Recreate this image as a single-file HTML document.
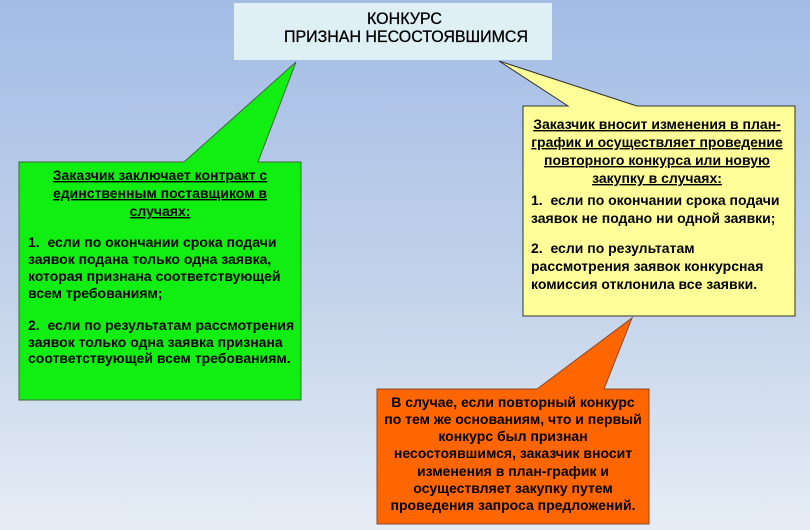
<!DOCTYPE html>
<html><head><meta charset="utf-8"><style>
html,body{margin:0;padding:0;}
body{width:810px;height:530px;overflow:hidden;background:linear-gradient(#a3bce6,#c3d3ea 55%,#e6edf5);}
svg{display:block}
text{font-family:"Liberation Sans",Arial,sans-serif;font-weight:bold;font-size:14px;fill:#000;}
.u{text-decoration:underline;}
.t{font-weight:normal;font-size:17px;stroke:#000;stroke-width:0.3px;}
</style></head><body>
<svg width="810" height="530" viewBox="0 0 810 530">
<rect x="234" y="3" width="318" height="57" fill="#def0f3"/>
<text class="t" x="367" y="24" textLength="75" lengthAdjust="spacingAndGlyphs">КОНКУРС</text>
<text class="t" x="284" y="42" textLength="244" lengthAdjust="spacingAndGlyphs">ПРИЗНАН НЕСОСТОЯВШИМСЯ</text>

<polygon points="19,162 184,162 296,62 258,162 301,162 301,400 19,400" fill="#11ee11" stroke="#3a6a3a" stroke-width="1"/>
<g text-anchor="middle">
<text class="u" x="160" y="180">Заказчик заключает контракт с</text>
<text class="u" x="160" y="198">единственным поставщиком в</text>
<text class="u" x="160" y="216">случаях:</text>
</g>
<text x="28" y="247">1.&#160; если по окончании срока подачи</text>
<text x="28" y="264">заявок подана только одна заявка,</text>
<text x="28" y="281">которая признана соответствующей</text>
<text x="28" y="298">всем требованиям;</text>
<text x="28" y="330">2.&#160; если по результатам рассмотрения</text>
<text x="28" y="347">заявок только одна заявка признана</text>
<text x="28" y="363">соответствующей всем требованиям.</text>

<polygon points="523,106 568,106 499,61 637,106 795,106 795,316 523,316" fill="#ffff99" stroke="#333" stroke-width="1"/>
<g text-anchor="middle">
<text class="u" x="657" y="129">Заказчик вносит изменения в план-</text>
<text class="u" x="657" y="147">график и осуществляет проведение</text>
<text class="u" x="657" y="165">повторного конкурса или новую</text>
<text class="u" x="657" y="183">закупку в случаях:</text>
</g>
<text x="531" y="205">1.&#160; если по окончании срока подачи</text>
<text x="531" y="223">заявок не подано ни одной заявки;</text>
<text x="531" y="253">2.&#160; если по результатам</text>
<text x="531" y="271">рассмотрения заявок конкурсная</text>
<text x="531" y="289">комиссия отклонила все заявки.</text>

<polygon points="377,389 537,389 632,318 604,389 649,389 649,524 377,524" fill="#ff6600" stroke="#8a4a2a" stroke-width="1"/>
<g text-anchor="middle">
<text x="513" y="407">В случае, если повторный конкурс</text>
<text x="513" y="424">по тем же основаниям, что и первый</text>
<text x="513" y="441">конкурс был признан</text>
<text x="513" y="458">несостоявшимся, заказчик вносит</text>
<text x="513" y="476">изменения в план-график и</text>
<text x="513" y="493">осуществляет закупку путем</text>
<text x="513" y="510">проведения запроса предложений.</text>
</g>
</svg>
</body></html>
